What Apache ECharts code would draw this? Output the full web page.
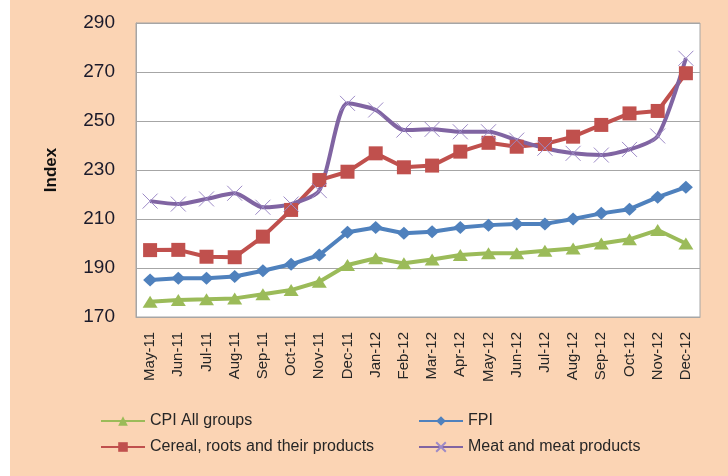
<!DOCTYPE html>
<html>
<head>
<meta charset="utf-8">
<script src="https://cdn.jsdelivr.net/npm/echarts@6/dist/echarts.min.js"></script>
<style>
html,body{margin:0;padding:0;background:#fff;}
#chart{width:728px;height:476px;}
</style>
</head>
<body>
<div id="chart"></div>
<script>
const categories = ['May-11','Jun-11','Jul-11','Aug-11','Sep-11','Oct-11','Nov-11','Dec-11','Jan-12','Feb-12','Mar-12','Apr-12','May-12','Jun-12','Jul-12','Aug-12','Sep-12','Oct-12','Nov-12','Dec-12'];
const cpiAll = [176.2,176.9,177.2,177.6,179.3,181.0,184.4,191.2,194.0,191.9,193.5,195.3,196.0,196.0,197.0,198.0,200.0,201.7,205.5,200.0];
const fpi = [185.1,185.8,185.8,186.5,188.9,191.5,195.3,204.6,206.5,204.2,204.8,206.5,207.5,208.0,208.0,210.0,212.3,214.0,218.9,223.0];
const cereal = [197.3,197.4,194.6,194.4,202.8,213.7,225.9,229.3,236.8,231.1,231.8,237.5,241.1,239.5,240.6,243.6,248.4,253.1,254.1,269.5];
const meat = [217.3,216.1,218.2,220.5,214.8,216.1,221.6,257.2,254.5,246.3,246.6,245.6,245.6,242.2,238.9,236.8,236.1,238.4,243.9,275.6];
const yTicks = {min:170, max:290, interval:20};
const seriesNames = ['CPI All groups','FPI','Cereal, roots and their products','Meat and meat products'];

const chart = echarts.init(document.getElementById('chart'));
const FONT = 'Liberation Sans';
const crossPath = 'path://M0,0L10,10M10,0L0,10';
const legendBase = {
  itemWidth:44, itemHeight:12, itemGap:0,
  textStyle:{fontFamily:FONT, fontSize:16, color:'#262626'},
  padding:0
};
chart.setOption({
  backgroundColor:'#FBD4B4',
  animation:false,
  graphic:[{type:'rect', left:0, top:0, shape:{width:10, height:476}, style:{fill:'#ffffff'}, silent:true}],
  grid:{left:136, top:23, right:28, bottom:159, show:true, backgroundColor:'#ffffff', borderColor:'#a6a6a6', borderWidth:1},
  legend:[
    Object.assign({}, legendBase, {data:[seriesNames[0]], left:100, top:413}),
    Object.assign({}, legendBase, {data:[seriesNames[1]], left:418, top:413}),
    Object.assign({}, legendBase, {data:[seriesNames[2]], left:100, top:439}),
    Object.assign({}, legendBase, {data:[seriesNames[3]], left:418, top:439})
  ],
  xAxis:{
    type:'category', data:categories, boundaryGap:true,
    axisLine:{lineStyle:{color:'#a6a6a6'}},
    axisTick:{show:false},
    axisLabel:{rotate:90, interval:0, margin:15, fontFamily:FONT, fontSize:15, color:'#262626'}
  },
  yAxis:{
    type:'value', min:yTicks.min, max:yTicks.max, interval:yTicks.interval,
    name:'Index', nameLocation:'middle', nameGap:76, nameRotate:90,
    nameTextStyle:{fontFamily:FONT, fontSize:17, fontWeight:'bold', color:'#111'},
    axisLine:{show:true, lineStyle:{color:'#a6a6a6'}},
    axisTick:{show:false},
    splitLine:{lineStyle:{color:'#a6a6a6', width:1}},
    axisLabel:{margin:21, fontFamily:FONT, fontSize:19, color:'#1a1a2a'}
  },
  series:[
    {name:seriesNames[0], type:'line', data:cpiAll, symbol:'triangle', symbolSize:[15,12],
     lineStyle:{color:'#9BBB59', width:4}, itemStyle:{color:'#9BBB59'}},
    {name:seriesNames[1], type:'line', data:fpi, symbol:'diamond', symbolSize:[14,13],
     lineStyle:{color:'#4F81BD', width:4}, itemStyle:{color:'#4F81BD'}},
    {name:seriesNames[2], type:'line', data:cereal, symbol:'rect', symbolSize:14,
     lineStyle:{color:'#C0504D', width:4}, itemStyle:{color:'#C0504D'}},
    {name:seriesNames[3], type:'line', data:meat, symbol:crossPath, symbolSize:15, smooth:0.25,
     lineStyle:{color:'#8064A2', width:4}, itemStyle:{color:'#8064A2', borderColor:'#9D8AC7', borderWidth:1}}
  ]
});
</script>
</body>
</html>
